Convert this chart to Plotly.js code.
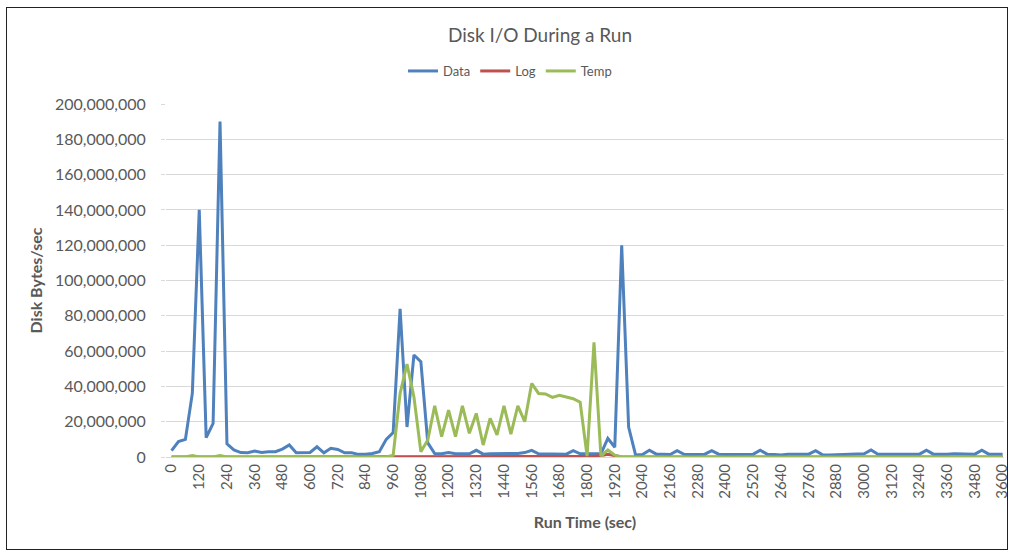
<!DOCTYPE html>
<html>
<head>
<meta charset="utf-8">
<script src="https://cdn.plot.ly/plotly-3.0.1.min.js"></script>
<style>
  html, body { margin: 0; padding: 0; background: #fff; }
  #wrap { position: relative; width: 1011px; height: 554px; }
  #chart { width: 1011px; height: 554px; }
  #frame { position: absolute; left: 6px; top: 7px; width: 1000px; height: 541px; border: 1px solid #222; pointer-events: none; }
</style>
</head>
<body>
<div id="wrap">
  <div id="chart"></div>
  <div id="frame"></div>
</div>
<script>
// Run time (sec), one sample every 30 s
const runTime = [
  0, 30, 60, 90, 120, 150, 180, 210, 240, 270, 300, 330, 360, 390, 420, 450, 480, 510, 540, 570,
  600, 630, 660, 690, 720, 750, 780, 810, 840, 870, 900, 930, 960, 990, 1020, 1050, 1080, 1110, 1140, 1170,
  1200, 1230, 1260, 1290, 1320, 1350, 1380, 1410, 1440, 1470, 1500, 1530, 1560, 1590, 1620, 1650, 1680, 1710, 1740, 1770,
  1800, 1830, 1860, 1890, 1920, 1950, 1980, 2010, 2040, 2070, 2100, 2130, 2160, 2190, 2220, 2250, 2280, 2310, 2340, 2370,
  2400, 2430, 2460, 2490, 2520, 2550, 2580, 2610, 2640, 2670, 2700, 2730, 2760, 2790, 2820, 2850, 2880, 2910, 2940, 2970,
  3000, 3030, 3060, 3090, 3120, 3150, 3180, 3210, 3240, 3270, 3300, 3330, 3360, 3390, 3420, 3450, 3480, 3510, 3540, 3570,
  3600
];

// Disk bytes/sec — Data files
const dataIO = [
  3.6e6, 8.7e6, 10e6, 36e6, 140e6, 11e6, 19e6, 190e6, 7.5e6, 4e6,
  2.5e6, 2.4e6, 3.4e6, 2.6e6, 3e6, 3e6, 4.5e6, 6.8e6, 2.4e6, 2.4e6,
  2.6e6, 5.8e6, 2.4e6, 4.9e6, 4.3e6, 2.4e6, 2.4e6, 1.5e6, 1.5e6, 2e6,
  3e6, 10e6, 13.8e6, 84e6, 17e6, 57.8e6, 54e6, 8e6, 2e6, 1.8e6,
  2.5e6, 1.8e6, 1.8e6, 1.8e6, 3.8e6, 1.6e6, 1.8e6, 1.8e6, 1.6e6, 1.6e6,
  2e6, 2.5e6, 3.8e6, 1.8e6, 1.8e6, 1.6e6, 1.8e6, 1.6e6, 3.6e6, 1.8e6,
  1.8e6, 1.6e6, 1.8e6, 10.6e6, 5.5e6, 120e6, 17e6, 1.2e6, 1.4e6, 3.8e6,
  1.6e6, 1.5e6, 1.4e6, 3.6e6, 1.5e6, 1.4e6, 1.5e6, 1.6e6, 3.6e6, 1.6e6,
  1.4e6, 1.5e6, 1.7e6, 1.5e6, 1.6e6, 3.8e6, 1.6e6, 1.4e6, 1.2e6, 1.5e6,
  1.6e6, 1.5e6, 1.6e6, 3.6e6, 1.2e6, 1.1e6, 1.2e6, 1.4e6, 1.5e6, 1.6e6,
  1.8e6, 4e6, 1.6e6, 1.5e6, 1.4e6, 1.6e6, 1.4e6, 1.5e6, 1.6e6, 3.8e6,
  1.6e6, 1.4e6, 1.5e6, 1.8e6, 1.6e6, 1.5e6, 1.6e6, 3.8e6, 1.6e6, 1.6e6,
  1.6e6
];

// Disk bytes/sec — Log file
const logIO = [
  0, 0, 0, 0, 0, 0, 0, 0, 0, 0,
  0, 0, 0, 0, 0, 0, 0, 0, 0, 0,
  0, 0, 0, 0, 0, 0, 0, 0, 0, 0,
  0, 0, 0.3e6, 0.3e6, 0.3e6, 0.3e6, 0.3e6, 0.3e6, 0.3e6, 0.3e6,
  0.3e6, 0.3e6, 0.3e6, 0.3e6, 0.3e6, 0.3e6, 0.3e6, 0.3e6, 0.3e6, 0.3e6,
  0.3e6, 0.3e6, 0.3e6, 0.3e6, 0.3e6, 0.3e6, 0.3e6, 0.3e6, 0.3e6, 0.3e6,
  0.3e6, 0.3e6, 0.8e6, 1.5e6, 0.8e6, 0, 0, 0, 0, 0,
  0, 0, 0, 0, 0, 0, 0, 0, 0, 0,
  0, 0, 0, 0, 0, 0, 0, 0, 0, 0,
  0, 0, 0, 0, 0, 0, 0, 0, 0, 0,
  0, 0, 0, 0, 0, 0, 0, 0, 0, 0,
  0, 0, 0, 0, 0, 0, 0, 0, 0, 0,
  0
];

// Disk bytes/sec — Temp (tempdb)
const tempIO = [
  0, 0, 0, 0.8e6, 0, 0, 0, 0.8e6, 0, 0,
  0, 0, 0, 0, 0, 0, 0, 0, 0, 0,
  0, 0, 0, 0, 0, 0, 0, 0, 0, 0,
  0, 0, 1e6, 36e6, 52.7e6, 34e6, 3e6, 9.6e6, 29e6, 11.5e6,
  26.6e6, 11.5e6, 29e6, 13.4e6, 24.7e6, 6.8e6, 21.9e6, 12.5e6, 29e6, 13e6,
  29e6, 20e6, 41.7e6, 36e6, 35.7e6, 33.8e6, 35e6, 34e6, 33e6, 31e6,
  0.5e6, 65e6, 0.5e6, 4e6, 1e6, 0, 0, 0, 0, 0,
  0, 0, 0, 0, 0, 0, 0, 0, 0, 0,
  0, 0, 0, 0, 0, 0, 0, 0, 0, 0,
  0, 0, 0, 0, 0, 0, 0, 0, 0, 0,
  0, 0, 0, 0, 0, 0, 0, 0, 0, 0,
  0, 0, 0, 0, 0, 0, 0, 0, 0, 0,
  0
];

const seriesNames = ['Data', 'Log', 'Temp'];
const seriesColors = ['#4F81BD', '#C0504D', '#9BBB59'];
const seriesValues = [dataIO, logIO, tempIO];

const FONT = 'Lato, "Liberation Sans", Arial, sans-serif';
const GRAY = '#595959';

const traces = seriesNames.map((name, k) => ({
  type: 'scatter',
  mode: 'lines',
  name: name,
  x: runTime,
  y: seriesValues[k],
  line: { color: seriesColors[k], width: 3 },
  hoverinfo: 'x+y+name'
}));

const layout = {
  width: 1011,
  height: 554,
  margin: { l: 166, r: 7, t: 104, b: 97, pad: 0 },
  paper_bgcolor: '#ffffff',
  plot_bgcolor: '#ffffff',
  font: { family: FONT, color: GRAY },
  title: {
    text: 'Disk I/O During a Run',
    font: { family: FONT, size: 19, color: GRAY },
    x: 540 / 1011, xref: 'container', xanchor: 'center',
    y: 1 - 35 / 554, yref: 'container', yanchor: 'middle'
  },
  showlegend: true,
  legend: {
    orientation: 'h',
    x: (510 - 166) / 838, xanchor: 'center',
    y: 1 + (104 - 71) / 353, yanchor: 'middle',
    font: { family: FONT, size: 13, color: GRAY },
    itemwidth: 30,
    traceorder: 'normal'
  },
  xaxis: {
    range: [-24, 3606],
    tickmode: 'linear',
    tick0: 0,
    dtick: 120,
    tickangle: -90,
    tickfont: { family: FONT, size: 15, color: GRAY },
    showgrid: false,
    zeroline: false,
    showline: true,
    linecolor: '#d9d9d9',
    linewidth: 1,
    ticks: '',
    title: {
      text: '<b>Run Time (sec)</b>',
      font: { family: FONT, size: 16, color: GRAY },
      standoff: 18
    }
  },
  yaxis: {
    range: [0, 200e6],
    tickmode: 'linear',
    tick0: 0,
    dtick: 20e6,
    tickformat: ',d',
    tickfont: { family: FONT, size: 16, color: GRAY },
    showgrid: true,
    gridcolor: '#d9d9d9',
    gridwidth: 1,
    zeroline: false,
    showline: false,
    ticks: 'outside',
    ticklen: 4,
    tickcolor: '#d9d9d9',
    ticklabelstandoff: 12,
    title: {
      text: '<b>Disk Bytes/sec</b>',
      font: { family: FONT, size: 16, color: GRAY },
      standoff: 8
    }
  }
};

Plotly.newPlot('chart', traces, layout, { displayModeBar: false, responsive: false, staticPlot: true });
</script>
</body>
</html>
